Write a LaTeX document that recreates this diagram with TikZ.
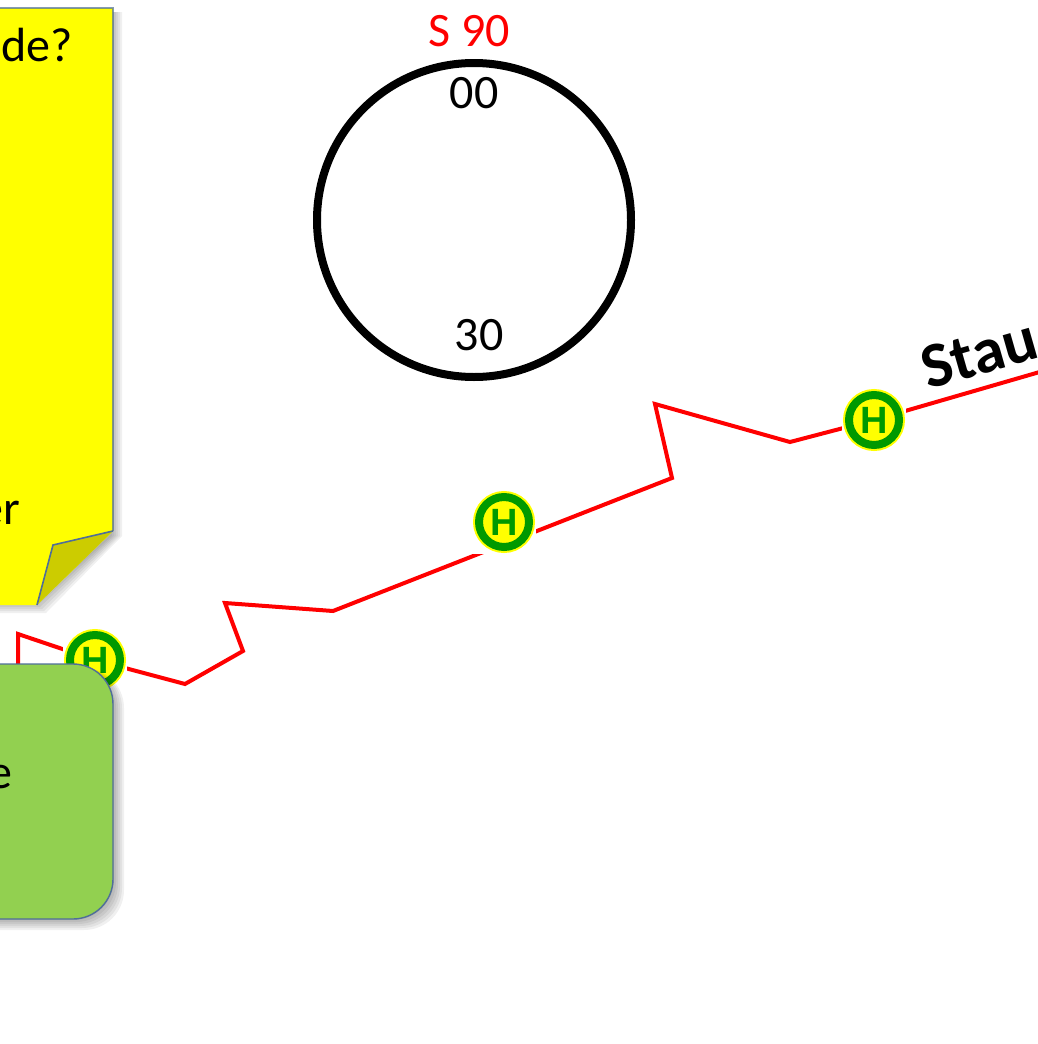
\documentclass[tikz,border=0pt]{standalone}
\usepackage{fontspec}
\setmainfont{Carlito}
\newfontfamily\stopfont{Liberation Sans}
\usetikzlibrary{backgrounds}
\definecolor{notefill}{HTML}{FFFF00}
\definecolor{foldfill}{HTML}{CCCC00}
\definecolor{boxfill}{HTML}{92D050}
\definecolor{edgeblue}{HTML}{4F6E99}
\definecolor{stopgreen}{HTML}{009900}
\tikzset{
    label text/.style={font=\fontsize{48}{48}\selectfont, inner sep=0pt},
    route/.style={red, line width=4pt, line join=miter},
    stop/.style={circle, preaction={draw=notefill, line width=12pt}, draw=stopgreen, line width=8pt, fill=notefill,
        minimum size=50pt, inner sep=0pt, text=stopgreen, font=\stopfont\bfseries\fontsize{38}{38}\selectfont},
    edge line/.style={draw=edgeblue, line width=1.6pt},
    soft shadow/.style={fill=black, opacity=0.06, draw=none}
}
\begin{document}
\begin{tikzpicture}[x=1pt, y=-1pt]
        \useasboundingbox (0,0) rectangle (1038,1044);
        % Clock face with its line number
        \node[circle, draw, line width=8pt, minimum size=314pt, inner sep=0pt] (clock) at (474,220) {};
        \node[label text, red] (line) at (469,31) {S 90};
        \node[label text] (top) at (474,93) {00};
        \node[label text] (bottom) at (479,335) {30};

        % Stops
        \node[stop] (stopa) at (95,660) {H};
        \node[stop] (stopb) at (504,522) {H};
        \node[stop] (stopc) at (874,420) {H};

        % Route
        \coordinate (r0) at (18,680);
        \coordinate (r1) at (18,634);
        \coordinate (r2) at (185,684);
        \coordinate (r3) at (243,651);
        \coordinate (r4) at (225,603);
        \coordinate (r5) at (333,611);
        \coordinate (r6) at (672,478);
        \coordinate (r7) at (655,404);
        \coordinate (r8) at (790,442);
        \coordinate (r9) at (1050,369);
        \begin{scope}[on background layer]
            \draw[route] (r0) -- (r1) -- (stopa.center) -- (r2) -- (r3) -- (r4) -- (r5) -- (r6) -- (r7) -- (r8) -- (stopc.center) -- (r9);
            % white squares round the stops
            \foreach \n in {stopa,stopb,stopc}
                \fill[white] (\n.center) +(-32,-32) rectangle +(32,32);
        \end{scope}
        \node[font=\fontsize{64}{64}\selectfont\bfseries, inner sep=0pt, anchor=base west, rotate=16] (jam) at (928,390) {Stau};

        % Sticky note
        \foreach \s in {0,2,4,6,8,10}
            \fill[soft shadow] (-10,12) -- (122-\s,12) -- (122-\s,536) -- (46-\s,613-\s) -- (-10,613-\s) -- cycle;
        \path[fill=notefill] (-10,8) -- (113,8) -- (113,531) -- (37,605) -- (-10,605) -- cycle;
        \draw[edge line, opacity=0.7] (-10,8) -- (113,8) -- (113,531);
        \path[fill=foldfill] (113,531) -- (53,545) -- (37,605) -- cycle;
        \draw[edge line] (113,531) -- (53,545) -- (37,605);
        \node[label text, anchor=base east] (notea) at (73,61) {de?};
        \node[label text, anchor=base east] (noteb) at (20,524) {er};

        % Green box
        \foreach \s in {0,2,4,6,8,10}
            \fill[soft shadow, rounded corners=40pt] (-60,668) rectangle (124-\s,930-\s);
        \draw[fill=boxfill, draw=edgeblue, line width=1.4pt, rounded corners=40pt] (-60,664) rectangle (113,919);
        \node[label text, anchor=base east] (boxa) at (13,788) {e};
\end{tikzpicture}
\end{document}
